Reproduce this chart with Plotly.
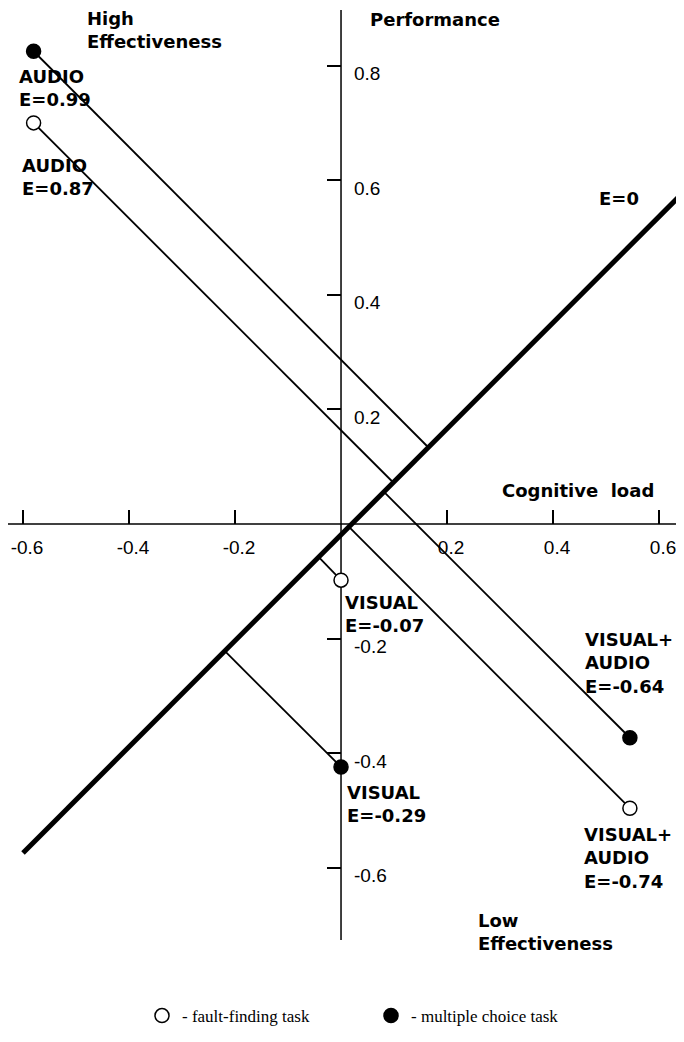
import plotly.graph_objects as go

# Points: cognitive load (x) vs performance (y)
task = ["multiple choice", "fault-finding", "fault-finding", "multiple choice", "multiple choice", "fault-finding"]
cognitive_load = [-0.58, -0.58, 0.0, 0.0, 0.545, 0.545]
performance = [0.825, 0.70, -0.098, -0.424, -0.373, -0.496]

# foot of each perpendicular on the E=0 line
foot_load = [0.165, 0.099, -0.042, -0.219, 0.081, 0.015]
foot_perf = [0.1335, 0.072, -0.058, -0.222, 0.056, -0.005]

# E=0 line
e0_load = [-0.60, 0.66]
e0_perf = [-0.574, 0.592]

x_ticks = [-0.6, -0.4, -0.2, 0.2, 0.4, 0.6]
x_ticktext = ["-0.6", "-0.4", "-0.2", "0.2", "0.4", "0.6"]
y_ticks = [-0.6, -0.4, -0.2, 0.2, 0.4, 0.6, 0.8]
y_ticktext = ["-0.6", "-0.4", "-0.2", "0.2", "0.4", "0.6", "0.8"]

labels = [
    ("High<br>Effectiveness", -0.483, 0.862),
    ("Performance", 0.051, 0.880),
    ("AUDIO<br>E=0.99", -0.611, 0.761),
    ("AUDIO<br>E=0.87", -0.606, 0.606),
    ("E=0", 0.483, 0.568),
    ("Cognitive  load", 0.300, 0.059),
    ("VISUAL<br>E=-0.07", 0.004, -0.157),
    ("VISUAL+<br>AUDIO<br>E=-0.64", 0.457, -0.243),
    ("VISUAL<br>E=-0.29", 0.0075, -0.488),
    ("VISUAL+<br>AUDIO<br>E=-0.74", 0.455, -0.582),
    ("Low<br>Effectiveness", 0.255, -0.712),
]

fig = go.Figure()

# axes drawn as plain lines so they stop where the original stops
fig.add_trace(go.Scatter(x=[-0.63, 0.66], y=[0, 0], mode="lines",
                         line=dict(color="black", width=1.5), showlegend=False, hoverinfo="skip"))
fig.add_trace(go.Scatter(x=[0, 0], y=[0.897, -0.726], mode="lines",
                         line=dict(color="black", width=1.5), showlegend=False, hoverinfo="skip"))

# E=0 diagonal
fig.add_trace(go.Scatter(x=e0_load, y=e0_perf, mode="lines",
                         line=dict(color="black", width=5), showlegend=False, hoverinfo="skip"))

# perpendiculars
for i in range(len(cognitive_load)):
    fig.add_trace(go.Scatter(x=[cognitive_load[i], foot_load[i]], y=[performance[i], foot_perf[i]],
                             mode="lines", line=dict(color="black", width=1.8),
                             showlegend=False, hoverinfo="skip"))

# markers, one trace per task type (gives the legend)
for name, kind, fill in [("- fault-finding task", "fault-finding", "white"),
                         ("- multiple choice task", "multiple choice", "black")]:
    xs = [cognitive_load[i] for i in range(len(task)) if task[i] == kind]
    ys = [performance[i] for i in range(len(task)) if task[i] == kind]
    fig.add_trace(go.Scatter(x=xs, y=ys, mode="markers", name=name,
                             marker=dict(size=14, color=fill, line=dict(color="black", width=1.5))))

for text, lx, ly in labels:
    fig.add_annotation(x=lx, y=ly, text="<b>" + text.replace("<br>", "</b><br><b>") + "</b>",
                       showarrow=False, xanchor="left", yanchor="middle", align="left",
                       font=dict(family="DejaVu Sans", size=18, color="black"),
                       xref="x", yref="y")

# page body has an 8px margin, so the figure is 16px smaller than the window
fig.update_layout(
    width=668, height=1026,
    margin=dict(l=0, r=0, t=0, b=0),
    plot_bgcolor="white", paper_bgcolor="white",
    font=dict(family="Liberation Sans", color="black"),
    # legend kept inside the plot area so it does not push the margins
    legend=dict(orientation="h", x=0.2006, y=0.0, xanchor="left", yanchor="bottom",
                font=dict(family="Liberation Serif", size=17, color="black"),
                entrywidth=184, bgcolor="rgba(0,0,0,0)"),
    xaxis=dict(range=[-0.6283, 0.632], showgrid=False, zeroline=False, showline=False,
               anchor="free", position=0.4971, side="bottom", automargin=False,
               tickvals=x_ticks, ticktext=x_ticktext, ticks="inside", ticklen=14,
               tickwidth=1.5, tickcolor="black", ticklabelstandoff=10,
               ticklabelshift=4, ticklabeloverflow="allow",
               tickfont=dict(family="Liberation Sans", size=19, color="black")),
    yaxis=dict(range=[-0.890, 0.9005], showgrid=False, zeroline=False, showline=False,
               anchor="free", position=0.4985, side="right", automargin=False,
               tickvals=y_ticks, ticktext=y_ticktext, ticks="inside", ticklen=14,
               tickwidth=1.5, tickcolor="black", ticklabelstandoff=12, ticklabelshift=8,
               ticklabeloverflow="allow",
               tickfont=dict(family="Liberation Sans", size=19, color="black")),
)

fig.write_html("out.html")
